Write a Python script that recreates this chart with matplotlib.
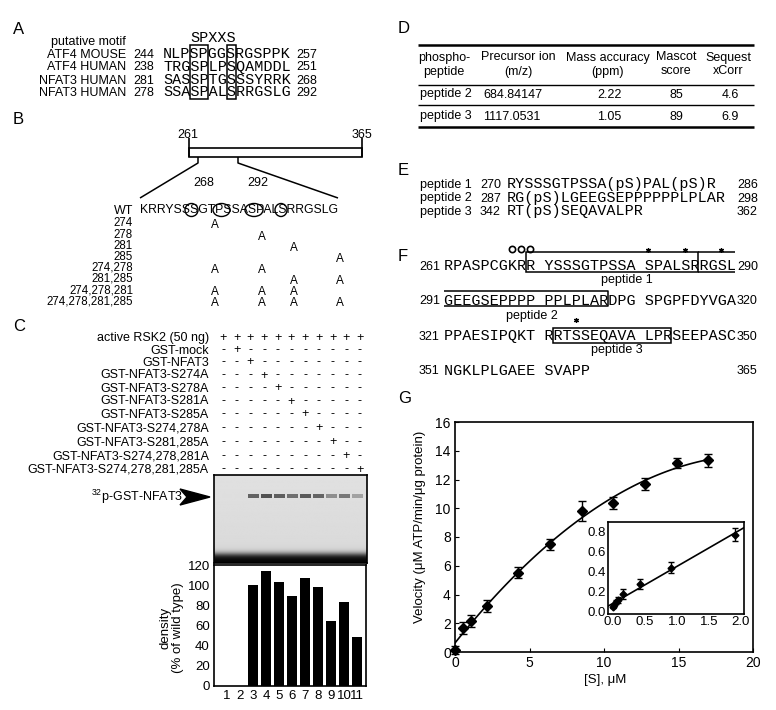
import matplotlib
matplotlib.use("Agg")
import matplotlib.pyplot as plt
import numpy as np
from matplotlib.patches import Rectangle, Ellipse, Polygon

# ---- data ----
# A: motif alignment
motif_names = ["ATF4 MOUSE", "ATF4 HUMAN", "NFAT3 HUMAN", "NFAT3 HUMAN"]
motif_start = ["244", "238", "281", "278"]
motif_seq = ["NLPSPGGSRGSPPK", "TRGSPLPSQAMDDL", "SASSPTGSSSYRRK", "SSASPALSRRGSLG"]
motif_end = ["257", "251", "268", "292"]

# B: mutants
wt_seq = "KRRYSSSGTPSSASPALSRRGSLG"
mutant_labels = ["274", "278", "281", "285", "274,278", "281,285",
                 "274,278,281", "274,278,281,285"]
mutant_sites = [[274], [278], [281], [285], [274, 278], [281, 285],
                [274, 278, 281], [274, 278, 281, 285]]

# C: kinase assay
lane_labels = ["active RSK2 (50 ng)", "GST-mock", "GST-NFAT3", "GST-NFAT3-S274A",
               "GST-NFAT3-S278A", "GST-NFAT3-S281A", "GST-NFAT3-S285A",
               "GST-NFAT3-S274,278A", "GST-NFAT3-S281,285A",
               "GST-NFAT3-S274,278,281A", "GST-NFAT3-S274,278,281,285A"]
lanes = list(range(1, 12))
density = [0, 0, 100, 114, 103, 89, 107, 98, 64, 83, 49]

# D: table
table_head_top = ["phospho-", "Precursor ion", "Mass accuracy", "Mascot", "Sequest"]
table_head_bot = ["peptide", "(m/z)", "(ppm)", "score", "xCorr"]
table_rows = [["peptide 2", "684.84147", "2.22", "85", "4.6"],
              ["peptide 3", "1117.0531", "1.05", "89", "6.9"]]

# E: phosphopeptides
pep_names = ["peptide 1", "peptide 2", "peptide 3"]
pep_start = ["270", "287", "342"]
pep_seq = ["RYSSSGTPSSA(pS)PAL(pS)R", "RG(pS)LGEEGSEPPPPPPLPLAR", "RT(pS)SEQAVALPR"]
pep_end = ["286", "298", "362"]

# F: sequence 261-365
f_start = ["261", "291", "321", "351"]
f_seq = ["RPASPCGKRR YSSSGTPSSA SPALSRRGSL",
         "GEEGSEPPPP PPLPLARDPG SPGPFDYVGA",
         "PPAESIPQKT RRTSSEQAVA LPRSEEPASC",
         "NGKLPLGAEE SVAPP"]
f_end = ["290", "320", "350", "365"]
f_stars = [(0, [22, 26, 30]), (2, [14])]
f_circles = [7, 8, 9]

# G: kinetics
s_conc = [0, 0.53, 1.06, 2.13, 4.25, 6.38, 8.5, 10.6, 12.75, 14.9, 17.0]
velocity = [0.16, 1.67, 2.16, 3.2, 5.52, 7.49, 9.81, 10.37, 11.66, 13.15, 13.33]
vel_err = [0.28, 0.45, 0.43, 0.4, 0.4, 0.4, 0.7, 0.4, 0.42, 0.32, 0.44]
inv_s = [0.0, 0.02, 0.04, 0.08, 0.16, 0.42, 0.91, 1.91]
inv_v = [0.04, 0.06, 0.09, 0.11, 0.17, 0.27, 0.44, 0.77]
inv_err = [0.01, 0.01, 0.02, 0.03, 0.05, 0.05, 0.06, 0.065]

plt.rcParams['font.family'] = ['Liberation Sans', 'DejaVu Sans']
plt.rcParams['mathtext.fontset'] = 'custom'
plt.rcParams['mathtext.rm'] = 'Liberation Sans'
plt.rcParams['mathtext.it'] = 'Liberation Sans:italic'

W, H = 776, 710
fig = plt.figure(figsize=(W / 100, H / 100), dpi=100)
bg = fig.add_axes([0, 0, 1, 1])
bg.set_xlim(0, W)
bg.set_ylim(H, 0)
bg.axis('off')

MONO = 'Liberation Mono'
MFS = 10.9
CW = 0.6 * MFS * 100 / 72


def px(x0, y0, x1, y1):
    return [x0 / W, 1 - y1 / H, (x1 - x0) / W, (y1 - y0) / H]


def t(x, yc, s, fs=9, **kw):
    bg.text(x, yc + 0.36 * fs * 100 / 72, s, fontsize=fs, va='baseline', **kw)


def tm(x, yc, s, **kw):
    bg.text(x, yc + 0.3 * MFS * 100 / 72, s, fontsize=MFS, family=MONO,
            va='baseline', **kw)


def line(xs, ys, lw=1.1):
    bg.plot(xs, ys, color='k', lw=lw, solid_capstyle='butt')


# ---- A ----
t(13, 28, 'A', fs=12)
t(126, 41, 'putative motif', ha='right')
tm(190, 37, 'SPXXS')
a_y = [53, 66, 79, 91]
for i, y in enumerate(a_y):
    t(126, y, motif_names[i], ha='right')
    t(133, y, motif_start[i])
    tm(163, y, motif_seq[i])
    t(296, y, motif_end[i])
for c0, c1 in [(3, 5), (7, 8)]:
    bg.add_patch(Rectangle((163 + c0 * CW, 45), (c1 - c0) * CW, 54,
                           fill=False, lw=1.1))

# ---- B ----
t(13, 118, 'B', fs=12)
t(188, 133, '261', ha='center')
t(362, 133, '365', ha='center')
bg.add_patch(Rectangle((189, 148), 173, 9, fill=False, lw=1.2))
line([189, 189], [138, 157], 1.2)
line([362, 362], [138, 157], 1.2)
line([198, 198, 140], [157, 163, 198])
line([238, 238, 338], [157, 163, 198])
t(204, 181, '268', ha='center')
t(258, 181, '292', ha='center')
t(133, 209, 'WT', ha='right')
t(140, 209, wt_seq, fs=8.8)
for cx, w in [(191.5, 13), (221.5, 17), (254, 18), (281, 12)]:
    bg.add_patch(Ellipse((cx, 210), w, 13, fill=False, lw=1.0))
site_x = {274: 215, 278: 262, 281: 294, 285: 340}
b_y = [222, 233.5, 244.5, 256, 266.5, 277.5, 289, 300]
for i, y in enumerate(b_y):
    t(133, y, mutant_labels[i], ha='right', fs=8.3)
    for s in mutant_sites[i]:
        t(site_x[s], y + 2, 'A', ha='center', fs=8.5)

# ---- C ----
t(13, 325, 'C', fs=12)
c_y = [337, 349, 361, 374, 387, 400, 413, 427, 441, 455, 468]
for i, y in enumerate(c_y):
    t(209, y, lane_labels[i], ha='right')
    for j in range(11):
        sym = '+' if (i == 0 or j == i) else '-'
        t(223 + j * 13.7, y, sym, ha='center')

ax_gel = fig.add_axes(px(214, 475, 367, 563))
yy = np.linspace(0, 1, 200)[:, None] * np.ones((1, 150))
gel = 0.88 - 0.03 * yy - 0.84 / (1 + np.exp(-(yy - 0.9) / 0.02))
ax_gel.imshow(gel, cmap='gray', vmin=0, vmax=1, extent=(0, 11.7, 0, 1),
              aspect='auto', origin='upper')
band_col = [str(round(0.87 - 0.55 * d / 114, 3)) for d in density]
ax_gel.bar(lanes, 0.05, bottom=0.735, width=0.82, color=band_col)
ax_gel.set_xlim(0, 11.7)
ax_gel.set_ylim(0, 1)
ax_gel.set_xticks([])
ax_gel.set_yticks([])
for sp in ax_gel.spines.values():
    sp.set_linewidth(1.2)

bg.text(183, 501, r'$^{32}$p-GST-NFAT3', fontsize=9, ha='right', va='baseline')
bg.add_patch(Polygon([(180, 489), (210, 497), (180, 505), (187, 497)],
                     closed=True, color='k'))

ax_bar = fig.add_axes(px(214, 565, 366, 686))
ax_bar.bar(lanes, density, width=0.77, color='k')
ax_bar.set_xlim(0, 11.7)
ax_bar.set_ylim(0, 120)
ax_bar.set_xticks(lanes)
ax_bar.set_yticks(range(0, 121, 20))
ax_bar.tick_params(length=0, labelsize=9.5, pad=3)
for sp in ax_bar.spines.values():
    sp.set_linewidth(1.2)
bg.text(172, 628, 'density\n(% of wild type)', rotation=90, ha='center',
        va='center', fontsize=9.5, linespacing=1.0)

# ---- D ----
t(398, 27, 'D', fs=12)
line([418, 754], [45, 45], 1.8)
line([418, 754], [85, 85], 1.0)
line([418, 754], [105, 105], 1.0)
line([418, 754], [127, 127], 1.8)
col_x = [444, 518, 608, 676, 728]
for i, cx in enumerate(col_x):
    t(cx, 56, table_head_top[i], ha='center')
    t(cx, 70, table_head_bot[i], ha='center')
for r, y in zip(table_rows, [93, 115]):
    t(420, y, r[0])
    t(483, y, r[1])
    t(609, y, r[2], ha='center')
    t(676, y, r[3], ha='center')
    t(730, y, r[4], ha='center')

# ---- E ----
t(398, 169, 'E', fs=12)
for i, y in enumerate([183.5, 197, 210.5]):
    t(420, y, pep_names[i])
    t(480, y, pep_start[i])
    tm(507, y, pep_seq[i])
    t(737, y, pep_end[i])

# ---- F ----
t(398, 255, 'F', fs=12)
f_y = [265, 300, 335, 370]
X0 = 444
for i, y in enumerate(f_y):
    t(419, y, f_start[i])
    tm(X0, y, f_seq[i])
    t(737, y, f_end[i])


def cx(n):
    return X0 + n * CW


bg.add_patch(Rectangle((cx(9), 252), cx(28) - cx(9), 20, fill=False, lw=1.1))
line([cx(28), cx(32)], [252, 252])
line([cx(28), cx(32)], [272, 272])
line([cx(0), cx(18), cx(18), cx(0)], [291, 291, 306, 306])
bg.add_patch(Rectangle((cx(12), 328), cx(25) - cx(12), 15, fill=False, lw=1.1))
for li, idx in f_stars:
    for n in idx:
        bg.plot(cx(n + 0.5), f_y[li] - 15, marker=(6, 2, 0), ms=3.5,
                color='k', mew=0.9)
for n in f_circles:
    bg.plot(cx(n + 0.5), 249, marker='o', ms=4.5, mfc='none', mec='k', mew=1.2)
t(627, 279, 'peptide 1', ha='center')
t(532, 314, 'peptide 2', ha='center')
t(617, 348, 'peptide 3', ha='center')

# ---- G ----
t(398, 397, 'G', fs=12)
ax_g = fig.add_axes(px(455, 422, 753, 652))
ax_g.errorbar(s_conc, velocity, yerr=vel_err, fmt='D', color='k', ms=5.5,
              capsize=3, elinewidth=1, capthick=1, clip_on=False, zorder=3)
fit = np.polyfit(s_conc, velocity, 2)
xs = np.linspace(0, 17, 100)
ax_g.plot(xs, np.polyval(fit, xs), color='k', lw=1.2)
ax_g.set_xlim(0, 20)
ax_g.set_ylim(0, 16)
ax_g.set_xticks([0, 5, 10, 15, 20])
ax_g.set_yticks(range(0, 17, 2))
ax_g.tick_params(direction='in', length=3, labelsize=10, pad=3)
for sp in ax_g.spines.values():
    sp.set_linewidth(1.2)
bg.text(465, 437, r'$V$max=11.5 μmol of ATP/min/ μg of protein', fontsize=9,
        va='baseline')
bg.text(465, 452, r'$K$m=3.559 μM', fontsize=9, va='baseline')
bg.text(420, 527, 'Velocity (μM ATP/min/μg protein)', rotation=90,
        ha='center', va='center', fontsize=9.5)
t(605, 678, '[S], μM', fs=9.5, ha='center')

ax_in = fig.add_axes(px(608, 522, 744, 614))
ax_in.errorbar(inv_s, inv_v, yerr=inv_err, fmt='D', color='k', ms=3.5,
               capsize=2.5, elinewidth=1, capthick=1, clip_on=False, zorder=3)
lfit = np.polyfit(inv_s, inv_v, 1)
lx = np.array([-0.08, 2.05])
ax_in.plot(lx, np.polyval(lfit, lx), color='k', lw=1.2)
ax_in.set_xlim(-0.08, 2.05)
ax_in.set_ylim(-0.03, 0.9)
ax_in.set_xticks([0, 0.5, 1.0, 1.5, 2.0])
ax_in.set_xticklabels(["0.0", "0.5", "1.0", "1.5", "2.0"])
ax_in.set_yticks([0, 0.2, 0.4, 0.6, 0.8])
ax_in.set_yticklabels(["0.0", "0.2", "0.4", "0.6", "0.8"])
ax_in.tick_params(length=0, labelsize=9.5, pad=1.5)
for sp in ax_in.spines.values():
    sp.set_linewidth(1.2)
t(625, 536, '1/Vmax=0.0869', fs=9.5)
t(571, 566, '1/V', fs=9.5, ha='center')
t(680, 634, '1/[S]', fs=9, ha='center')

fig.savefig('out.png', dpi=100)
